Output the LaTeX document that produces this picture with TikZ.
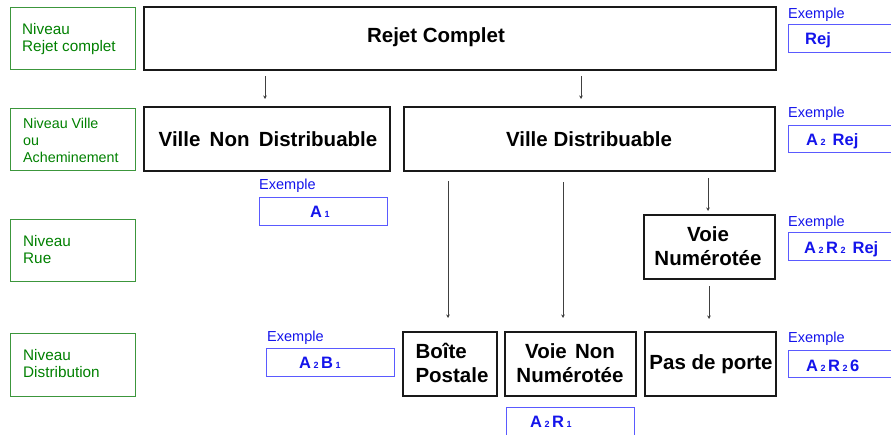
\documentclass[tikz,border=0pt]{standalone}
\usepackage{fontspec}
\setmainfont{Liberation Sans}
\usetikzlibrary{arrows.meta}
\definecolor{lvlgreen}{RGB}{0,128,0}
\definecolor{lvlframe}{RGB}{60,150,60}
\definecolor{exblue}{RGB}{20,20,235}
\definecolor{exframe}{RGB}{90,90,255}
\newcommand{\sub}[1]{\hspace{2.5pt}{\fontsize{9}{9}\selectfont #1}\hspace{2.5pt}}
\tikzset{
  lvl/.style={draw=lvlframe, line width=1pt, inner sep=0pt},
  lvltext/.style={text=lvlgreen, anchor=north west, align=left, inner sep=0pt,
    font=\fontsize{15.3}{17.5}\selectfont},
  blk/.style={draw=black!90, line width=2pt},
  blktext/.style={font=\bfseries\fontsize{20.5}{24}\selectfont, align=center, inner sep=0pt},
  exframe/.style={draw=exframe, line width=1pt},
  exlabel/.style={text=exblue, anchor=base west, inner sep=0pt,
    font=\fontsize{14.5}{17}\selectfont},
  exval/.style={text=exblue, anchor=base west, inner sep=0pt,
    font=\bfseries\fontsize{16.5}{19}\selectfont},
  arr/.style={draw=black!75, line width=0.9pt, -{Stealth[length=3.5pt,width=3.5pt]}}
}
\begin{document}
\begin{tikzpicture}[x=1pt,y=-1pt]
\useasboundingbox (0,0) rectangle (891,434);
\clip (0,0) rectangle (891,434);

% level captions on the left
\draw[lvl] (10,7) rectangle (135,69);
\node[lvltext] (l1) at (22,23) {Niveau\\Rejet complet};
\draw[lvl] (10,108) rectangle (135,170);
\node[lvltext, font=\fontsize{14.3}{17}\selectfont] (l2) at (23,118) {Niveau Ville\\ou\\Acheminement};
\draw[lvl] (10,219) rectangle (135,281);
\node[lvltext] (l3) at (23,235) {Niveau\\Rue};
\draw[lvl] (10,333) rectangle (135,396);
\node[lvltext] (l4) at (23,349) {Niveau\\Distribution};

% hierarchy boxes
\draw[blk] (144,7) rectangle (776,70);
\node[blktext] (rej) at (436,37) {Rejet Complet};

\draw[blk] (144,107) rectangle (390,171);
\node[blktext] (vnd) at (268,139) {Ville\hspace{0.45em}Non\hspace{0.45em}Distribuable};
\draw[blk] (404,107) rectangle (775,171);
\node[blktext] (vd) at (589,139) {Ville Distribuable};

\draw[blk] (644,215) rectangle (775,279);
\node[blktext] (vn) at (708,246) {Voie\\Numérotée};

\draw[blk] (403,332) rectangle (497,396);
\node[blktext, align=left] (bp) at (452,363) {Boîte\\Postale};
\draw[blk] (505,332) rectangle (636,396);
\node[blktext] (vnn) at (570,363) {Voie\hspace{0.4em}Non\\Numérotée};
\draw[blk] (645,332) rectangle (776,396);
\node[blktext] (pp) at (711,364) {Pas de porte};

% connectors
\coordinate (a1s) at (265,76);  \coordinate (a1e) at (265,99);
\coordinate (a2s) at (581,76);  \coordinate (a2e) at (581,99);
\coordinate (a3s) at (448,181); \coordinate (a3e) at (448,318);
\coordinate (a4s) at (563,182); \coordinate (a4e) at (563,318);
\coordinate (a5s) at (708,178); \coordinate (a5e) at (708,211);
\coordinate (a6s) at (709,286); \coordinate (a6e) at (709,319);
\draw[arr] (a1s) -- (a1e);
\draw[arr] (a2s) -- (a2e);
\draw[arr] (a3s) -- (a3e);
\draw[arr] (a4s) -- (a4e);
\draw[arr] (a5s) -- (a5e);
\draw[arr] (a6s) -- (a6e);

% examples
\node[exlabel] (e1l) at (788,18) {Exemple};
\draw[exframe] (788,24) rectangle (900,52);
\node[exval] (e1) at (805,44) {Rej};

\node[exlabel] (e2l) at (788,117) {Exemple};
\draw[exframe] (788,125) rectangle (900,152);
\node[exval] (e2) at (806,145) {A\sub{2} Rej};

\node[exlabel] (e3l) at (788,226) {Exemple};
\draw[exframe] (788,232) rectangle (900,260);
\node[exval] (e3) at (804,253) {A\sub{2}R\sub{2} Rej};

\node[exlabel] (e4l) at (788,342) {Exemple};
\draw[exframe] (788,350) rectangle (900,377);
\node[exval] (e4) at (806,371) {A\sub{2}R\sub{2}6};

\node[exlabel] (e5l) at (259,189) {Exemple};
\draw[exframe] (259,197) rectangle (387,225);
\node[exval] (e5) at (310,217) {A\sub{1}};

\node[exlabel] (e6l) at (267,341) {Exemple};
\draw[exframe] (266,348) rectangle (394,376);
\node[exval] (e6) at (299,368) {A\sub{2}B\sub{1}};

\draw[exframe] (506,407) rectangle (634,445);
\node[exval] (e7) at (530,427) {A\sub{2}R\sub{1}};
\end{tikzpicture}
\end{document}
